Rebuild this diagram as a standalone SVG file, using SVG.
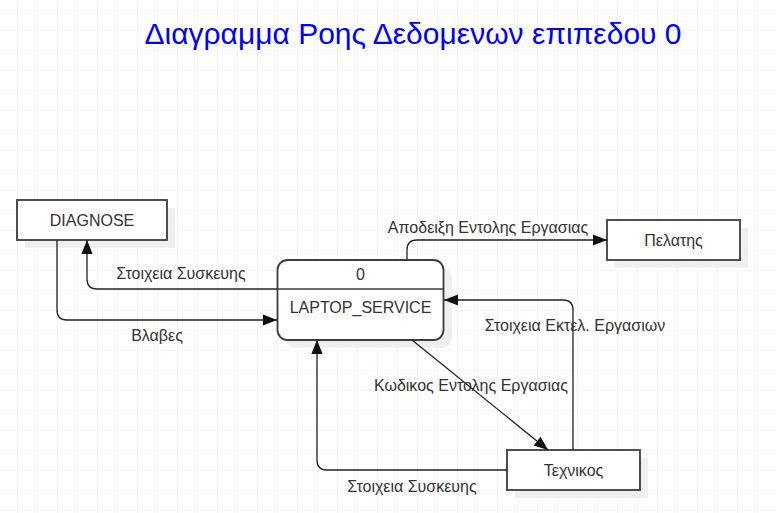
<svg xmlns="http://www.w3.org/2000/svg" width="776" height="513" viewBox="0 0 776 513">
<defs>
<pattern id="grid" x="17" y="10" width="20" height="20" patternUnits="userSpaceOnUse">
<path d="M0 0H20M0 0V20" fill="none" stroke="#efefef" stroke-width="1.2"/>
</pattern>
<marker id="arrB" viewBox="0 0 10 10" refX="10" refY="5" markerWidth="14" markerHeight="14" markerUnits="userSpaceOnUse" orient="auto">
<path d="M0 1L10 5L0 9Z" fill="#111"/>
</marker>
</defs>
<style>
.box{fill:#fff;stroke:#3c3c3c;stroke-width:1.8}
.sh{fill:#efefef}
.t{font-family:"Liberation Sans",Arial,sans-serif;font-size:16px;fill:#333;text-anchor:middle}
.l{font-family:"Liberation Sans",Arial,sans-serif;font-size:16px;fill:#333;text-anchor:middle}
.c{fill:none;stroke:#222;stroke-width:1.3}
</style>
<rect width="776" height="513" fill="#fff"/>
<rect width="776" height="513" fill="url(#grid)"/>
<text x="413" y="44" font-family="Liberation Sans,Arial,sans-serif" font-size="30" fill="#0000ff" text-anchor="middle">Διαγραμμα Ροης Δεδομενων επιπεδου 0</text>
<g id="diagnose">
<rect class="sh" x="25" y="208" width="150" height="40"/>
<rect class="box" x="17" y="200" width="150" height="40"/>
<text class="t" x="92" y="225.5">DIAGNOSE</text>
</g>
<g id="laptop_service">
<rect class="sh" x="285" y="268" width="167" height="80" rx="10"/>
<rect class="box" x="277.5" y="260" width="166" height="80" rx="10"/>
<line x1="277.5" y1="289" x2="443.5" y2="289" stroke="#3c3c3c" stroke-width="1.5"/>
<text class="t" x="360.5" y="280">0</text>
<text class="t" x="360.5" y="313">LAPTOP_SERVICE</text>
</g>
<g id="pelatis">
<rect class="sh" x="615" y="228" width="133" height="40"/>
<rect class="box" x="607" y="220" width="133" height="40"/>
<text class="t" x="673.5" y="245.5">Πελατης</text>
</g>
<g id="technikos">
<rect class="sh" x="515" y="458" width="133" height="40"/>
<rect class="box" x="507" y="450" width="133" height="40"/>
<text class="t" x="573.5" y="475.5">Τεχνικος</text>
</g>
<g id="connectors">
<path class="c" d="M277 289H97Q87 289 87 279V240" marker-end="url(#arrB)"/>
<path class="c" d="M57 240V310Q57 320 67 320H277" marker-end="url(#arrB)"/>
<path class="c" d="M407 260V250Q407 240 417 240H607" marker-end="url(#arrB)"/>
<path class="c" d="M573 450V310Q573 300 563 300H444" marker-end="url(#arrB)"/>
<path class="c" d="M412 340L548 450" marker-end="url(#arrB)"/>
<path class="c" d="M507 470H327Q317 470 317 460V340" marker-end="url(#arrB)"/>
<text class="l" x="181" y="279">Στοιχεια Συσκευης</text>
<text class="l" x="157" y="341">Βλαβες</text>
<text class="l" x="488" y="233">Αποδειξη Εντολης Εργασιας</text>
<text class="l" x="575" y="331">Στοιχεια Εκτελ. Εργασιων</text>
<text class="l" x="471" y="391">Κωδικος Εντολης Εργασιας</text>
<text class="l" x="412" y="492">Στοιχεια Συσκευης</text>
</g>
</svg>
